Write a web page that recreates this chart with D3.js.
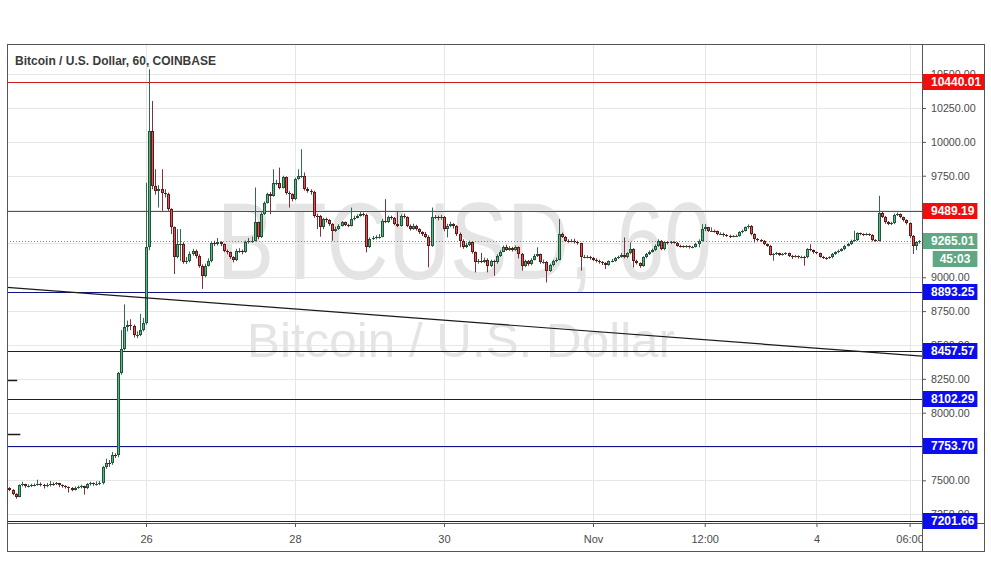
<!DOCTYPE html>
<html><head><meta charset="utf-8">
<script src="https://cdn.jsdelivr.net/npm/d3@7"></script>
<style>body{margin:0;background:#fff;}svg{display:block;}</style>
</head><body><svg id="c" width="991" height="588"></svg>
<script>
// ---------------- DATA ----------------
const title = "Bitcoin / U.S. Dollar, 60, COINBASE";
const watermark1 = "BTCUSD, 60";
const watermark2 = "Bitcoin / U.S. Dollar";
const firstBarTime = "2019-10-24T04:00:00Z"; // hourly bars
const firstOpen = 7440;
const closes = [
7430,7400,7380,7462,7470,7455,7458,7462,7465,7470,
7468,7458,7462,7475,7470,7478,7462,7455,7450,7440,
7430,7445,7450,7455,7440,7470,7478,7470,7475,7480,
7595,7630,7625,7690,7685,8290,8470,8630,8645,8640,
8570,8575,8610,8665,9221,10081,9676,9639,9651,9626,
9614,9503,9368,9147,9245,9245,9110,9122,9172,9196,
9159,9086,9012,9086,9122,9250,9245,9257,9245,9196,
9184,9147,9127,9196,9196,9184,9257,9270,9270,9405,
9294,9466,9552,9614,9600,9700,9700,9663,9737,9626,
9614,9577,9725,9749,9749,9651,9639,9630,9454,9450,
9368,9430,9420,9393,9344,9360,9381,9405,9385,9381,
9430,9440,9454,9466,9460,9221,9282,9290,9294,9300,
9417,9410,9442,9435,9393,9381,9454,9445,9381,9356,
9381,9356,9331,9320,9300,9233,9442,9442,9435,9445,
9356,9380,9393,9380,9320,9270,9221,9240,9257,9184,
9110,9120,9115,9130,9085,9120,9110,9160,9190,9221,
9205,9215,9200,9221,9172,9085,9120,9095,9130,9160,
9170,9110,9115,9049,9090,9120,9130,9319,9300,9270,
9265,9270,9260,9250,9150,9150,9150,9140,9130,9122,
9110,9103,9093,9117,9122,9142,9150,9167,9147,9177,
9208,9122,9103,9083,9147,9172,9189,9200,9233,9270,
9208,9257,9250,9257,9255,9233,9228,9225,9230,9221,
9225,9245,9270,9356,9368,9344,9344,9340,9319,9322,
9312,9307,9300,9304,9307,9331,9344,9368,9381,9319,
9282,9275,9270,9245,9233,9167,9172,9177,9167,9172,
9177,9159,9152,9157,9147,9152,9147,9208,9200,9184,
9177,9152,9142,9140,9147,9172,9184,9196,9208,9233,
9245,9270,9275,9324,9319,9314,9319,9314,9275,9270,
9478,9447,9405,9393,9398,9461,9466,9442,9422,9398,
9307,9233,9257,9265.01
];
const highs = [
7450,7435,7405,7470,7490,7475,7470,7475,7478,7505,
7485,7475,7480,7495,7485,7488,7482,7470,7465,7455,
7450,7455,7462,7468,7460,7480,7490,7485,7492,7495,
7605,7660,7650,7710,7700,8300,8610,8800,8680,8690,
8650,8600,8730,8700,9698,10536,10302,9798,9680,9798,
9650,9625,9510,9375,9356,9356,9260,9150,9190,9210,
9205,9170,9095,9100,9140,9260,9270,9290,9265,9250,
9205,9190,9155,9210,9215,9205,9270,9290,9300,9663,
9410,9480,9560,9625,9630,9798,9720,9810,9750,9745,
9635,9620,9735,9798,9946,9774,9665,9650,9640,9470,
9460,9440,9440,9430,9400,9375,9392,9415,9412,9395,
9515,9455,9465,9480,9478,9470,9295,9305,9310,9320,
9430,9577,9455,9455,9445,9491,9465,9470,9450,9390,
9395,9388,9362,9340,9335,9310,9515,9460,9455,9460,
9452,9395,9410,9400,9385,9330,9280,9255,9270,9265,
9190,9135,9180,9145,9140,9130,9130,9170,9200,9235,
9240,9230,9225,9235,9228,9180,9130,9128,9140,9172,
9221,9175,9130,9120,9100,9130,9145,9430,9330,9305,
9280,9282,9285,9270,9255,9165,9162,9158,9150,9140,
9130,9120,9112,9125,9135,9150,9160,9180,9294,9185,
9257,9215,9130,9110,9155,9180,9198,9212,9242,9280,
9275,9265,9265,9268,9265,9260,9240,9235,9238,9235,
9232,9255,9280,9393,9393,9372,9368,9352,9345,9332,
9330,9320,9315,9312,9315,9340,9352,9375,9390,9385,
9325,9290,9282,9275,9250,9238,9180,9188,9182,9180,
9185,9182,9165,9165,9162,9160,9158,9215,9245,9205,
9190,9182,9158,9150,9155,9180,9192,9205,9215,9240,
9255,9278,9344,9332,9330,9325,9328,9325,9318,9282,
9602,9485,9452,9415,9410,9470,9478,9472,9448,9428,
9405,9312,9265,9275
];
const lows = [
7420,7390,7365,7375,7455,7445,7448,7450,7455,7460,
7455,7440,7450,7455,7460,7465,7450,7445,7440,7410,
7420,7425,7438,7440,7395,7435,7462,7460,7462,7465,
7470,7585,7600,7615,7665,7670,8280,8460,8600,8610,
8555,8550,8565,8600,8650,9200,9650,9610,9515,9491,
9590,9490,9319,9024,9140,9122,9100,9098,9110,9160,
9140,9070,8914,9000,9080,9110,9230,9235,9230,9185,
9170,9135,9110,9120,9180,9170,9180,9250,9255,9265,
9280,9290,9460,9545,9466,9595,9680,9650,9655,9610,
9515,9560,9570,9720,9735,9640,9625,9610,9440,9356,
9300,9355,9405,9380,9270,9335,9350,9375,9378,9370,
9375,9420,9435,9448,9450,9184,9215,9275,9280,9285,
9295,9400,9400,9425,9385,9370,9375,9435,9370,9345,
9350,9345,9320,9305,9290,9073,9225,9430,9420,9425,
9340,9294,9370,9360,9305,9221,9210,9215,9230,9175,
9036,9100,9105,9105,9036,9075,9011,9100,9150,9185,
9195,9195,9190,9195,9140,9049,9075,9085,9088,9125,
9150,9100,9100,8962,9040,9080,9110,9125,9290,9260,
9255,9258,9250,9240,9049,9140,9140,9130,9120,9110,
9100,9090,9061,9085,9110,9115,9135,9145,9140,9140,
9170,9073,9095,9070,9078,9140,9165,9182,9195,9225,
9200,9200,9242,9245,9248,9225,9220,9218,9218,9212,
9215,9220,9221,9265,9340,9335,9335,9330,9310,9312,
9300,9298,9290,9295,9298,9300,9325,9338,9360,9310,
9257,9265,9260,9238,9225,9160,9122,9165,9158,9160,
9165,9150,9135,9145,9138,9140,9086,9140,9192,9175,
9170,9145,9135,9130,9135,9140,9165,9178,9190,9200,
9228,9238,9262,9268,9310,9305,9308,9305,9265,9262,
9265,9438,9395,9385,9385,9392,9452,9435,9412,9390,
9290,9172,9200,9250
];
const resistanceLevels = [10440.01, 9489.19];
const supportLevels = [8893.25, 8457.57, 8102.29, 7753.70, 7201.66];
const lastPrice = 9265.01;
const countdown = "45:03";
const priceTicks = [7250,7500,7750,8000,8250,8500,8750,9000,9250,9500,9750,10000,10250,10500];
const timeTicks = ["2019-10-26T00:00:00Z","2019-10-28T00:00:00Z","2019-10-30T00:00:00Z","2019-11-01T00:00:00Z","2019-11-02T12:00:00Z","2019-11-04T00:00:00Z","2019-11-05T06:00:00Z"];
const timeTickLabels = ["26","28","30","Nov","12:00","4","06:00"];
const trendLine = [{t:"2019-10-24T03:13:00Z", p:8925}, {t:"2019-11-05T10:00:00Z", p:8418}];
const stubLines = [{t0:"2019-10-24T03:13:00Z", t1:"2019-10-24T06:30:00Z", p:8241},
                   {t0:"2019-10-24T03:13:00Z", t1:"2019-10-24T07:30:00Z", p:7842}];

// ---------------- LAYOUT ----------------
const L = 7, R = 922, T = 44, B = 523, FR = 984, FB = 551;
const FONT = "'Liberation Sans', Arial, sans-serif";
const svg = d3.select('#c');

const x = d3.scaleUtc()
  .domain([new Date("2019-10-24T03:13:00Z"), new Date("2019-11-05T10:00:00Z")])
  .range([L, R]);
const y = d3.scaleLinear().domain([7185, 10723]).range([B, T]);
const py = p => Math.round(y(p)) + 0.5;

const t0 = new Date(firstBarTime).getTime();
const bars = closes.map((c, i) => {
  const o = i ? closes[i - 1] : firstOpen;
  return { t: new Date(t0 + i * 3600e3), o, c,
           h: Math.max(highs[i], o, c), l: Math.min(lows[i], o, c) };
});

const defs = svg.append('defs');
defs.append('clipPath').attr('id', 'plot')
  .append('rect').attr('x', L).attr('y', T).attr('width', R - L).attr('height', B - T);
defs.append('clipPath').attr('id', 'xax')
  .append('rect').attr('x', L).attr('y', B).attr('width', R - L).attr('height', FB - B);

const plot = svg.append('g').attr('clip-path', 'url(#plot)');

// watermark
plot.append('text').attr('x', (L + R) / 2).attr('y', 279).attr('text-anchor', 'middle')
  .attr('font-family', FONT).attr('font-size', 110).attr('fill', '#e4e4e4')
  .attr('textLength', 495).attr('lengthAdjust', 'spacingAndGlyphs').text(watermark1);
plot.append('text').attr('x', 461).attr('y', 357).attr('text-anchor', 'middle')
  .attr('font-family', FONT).attr('font-size', 48).attr('fill', '#e4e4e4')
  .attr('textLength', 428).attr('lengthAdjust', 'spacingAndGlyphs').text(watermark2);

// grid
plot.append('g').selectAll('line').data(priceTicks).join('line')
  .attr('x1', L).attr('x2', R).attr('y1', d => py(d)).attr('y2', d => py(d))
  .attr('stroke', '#e6e6e6').attr('stroke-width', 1);
plot.append('g').selectAll('line').data(timeTicks).join('line')
  .attr('y1', T).attr('y2', B)
  .attr('x1', d => Math.round(x(new Date(d))) + 0.5).attr('x2', d => Math.round(x(new Date(d))) + 0.5)
  .attr('stroke', '#e6e6e6').attr('stroke-width', 1);

// last price dotted line
plot.append('line').attr('x1', L).attr('x2', R)
  .attr('y1', py(lastPrice)).attr('y2', py(lastPrice))
  .attr('stroke', '#5a9c7c').attr('stroke-dasharray', '1,2');

// horizontal levels
plot.append('g').selectAll('line').data(resistanceLevels).join('line')
  .attr('x1', L).attr('x2', R).attr('y1', d => py(d)).attr('y2', d => py(d))
  .attr('stroke', '#d01c1c').attr('stroke-width', 1);
plot.append('g').selectAll('line').data(supportLevels).join('line')
  .attr('x1', L).attr('x2', R).attr('y1', d => py(d)).attr('y2', d => py(d))
  .attr('stroke', '#12128a').attr('stroke-width', 1);

// candles
const upBody = '#53b987', upBorder = '#225437', upWick = '#336854';
const dnBody = '#eb4d5c', dnBorder = '#5b1a13', dnWick = '#7f323f';
const cg = plot.append('g');
bars.forEach(d => {
  const cx = Math.round(x(d.t));
  const up = d.c >= d.o;
  cg.append('line').attr('x1', cx + 0.5).attr('x2', cx + 0.5)
    .attr('y1', y(d.h)).attr('y2', y(d.l))
    .attr('stroke', up ? upWick : dnWick).attr('stroke-width', 1);
  const top = Math.round(y(Math.max(d.o, d.c)));
  const h = Math.max(1, Math.round(y(Math.min(d.o, d.c))) - top);
  cg.append('rect').attr('x', cx - 1).attr('y', top).attr('width', 3).attr('height', h)
    .attr('fill', up ? upBorder : dnBorder);
  if (h > 2) cg.append('rect').attr('x', cx).attr('y', top + 1).attr('width', 1).attr('height', h - 2)
    .attr('fill', up ? upBody : dnBody);
});

// trend line and stubs
plot.append('line')
  .attr('x1', x(new Date(trendLine[0].t))).attr('y1', y(trendLine[0].p))
  .attr('x2', x(new Date(trendLine[1].t))).attr('y2', y(trendLine[1].p))
  .attr('stroke', '#1a1a1a').attr('stroke-width', 1.2);
plot.append('g').selectAll('line').data(stubLines).join('line')
  .attr('x1', d => x(new Date(d.t0))).attr('x2', d => x(new Date(d.t1)))
  .attr('y1', d => py(d.p)).attr('y2', d => py(d.p))
  .attr('stroke', '#1a1a1a').attr('stroke-width', 1.5);

// title
svg.append('text').attr('x', 15).attr('y', 65).attr('font-family', FONT)
  .attr('font-size', 12.5).attr('font-weight', 'bold').attr('fill', '#3a3a3a')
  .attr('textLength', 201).attr('lengthAdjust', 'spacingAndGlyphs').text(title);

// axes — tick labels that a price tag would fully cover are not drawn (hidden in the reference too)
const tagged = resistanceLevels.concat(supportLevels, [lastPrice]);
const visibleTicks = priceTicks.filter(t => !tagged.some(p => Math.abs(y(t) - y(p)) < 5.5)
  && !(Math.abs(y(t) - (y(lastPrice) + 18)) < 5.5));
const yAxis = svg.append('g').attr('transform', `translate(${R},0)`)
  .call(d3.axisRight(y).tickValues(visibleTicks).tickSize(4).tickPadding(5).tickFormat(d3.format('.2f')));
yAxis.select('.domain').remove();
yAxis.selectAll('line').attr('stroke', '#555');
yAxis.selectAll('text').attr('font-family', FONT).attr('font-size', 10.7).attr('fill', '#4a4a4a');

const xAxis = svg.append('g').attr('clip-path', 'url(#xax)')
  .append('g').attr('transform', `translate(0,${B})`)
  .call(d3.axisBottom(x).tickValues(timeTicks.map(d => new Date(d)))
    .tickSize(4).tickPadding(8).tickFormat((d, i) => timeTickLabels[i]));
xAxis.select('.domain').remove();
xAxis.selectAll('line').attr('stroke', '#555');
xAxis.selectAll('text').attr('font-family', FONT).attr('font-size', 11).attr('fill', '#4a4a4a');

// frame
svg.append('rect').attr('x', L + 0.5).attr('y', T + 0.5).attr('width', FR - L).attr('height', FB - T)
  .attr('fill', 'none').attr('stroke', '#555');
svg.append('line').attr('x1', R + 0.5).attr('x2', R + 0.5).attr('y1', T).attr('y2', FB).attr('stroke', '#555');
svg.append('line').attr('x1', L).attr('x2', FR).attr('y1', B + 0.5).attr('y2', B + 0.5).attr('stroke', '#555');

// price tags
function tag(p, label, fill) {
  const cy = Math.round(y(p));
  const g = svg.append('g');
  const t = g.append('text').attr('x', R + 9).attr('y', cy).attr('dy', '0.36em')
    .attr('font-family', FONT).attr('font-size', 12).attr('font-weight', 'bold')
    .attr('fill', '#fff').text(label);
  const w = t.node().getComputedTextLength();
  g.insert('rect', 'text').attr('x', R + 1).attr('y', cy - 8).attr('width', w + 11).attr('height', 16).attr('fill', fill);
  return { cy, right: R + 1 + w + 11 };
}
resistanceLevels.forEach(p => tag(p, d3.format('.2f')(p), '#f20d0d'));
supportLevels.forEach(p => tag(p, d3.format('.2f')(p), '#0c0cf0'));
const lp = tag(lastPrice, d3.format('.2f')(lastPrice), '#5fa883');
const cdg = svg.append('g');
const cdt = cdg.append('text').attr('y', lp.cy + 18).attr('dy', '0.36em')
  .attr('font-family', FONT).attr('font-size', 12).attr('font-weight', 'bold')
  .attr('fill', '#fff').attr('text-anchor', 'middle').text(countdown);
const cw = cdt.node().getComputedTextLength() + 14;
cdt.attr('x', lp.right - cw / 2);
cdg.insert('rect', 'text').attr('x', lp.right - cw).attr('y', lp.cy + 10).attr('width', cw).attr('height', 16).attr('fill', '#5fa883');
</script>
</body></html>
